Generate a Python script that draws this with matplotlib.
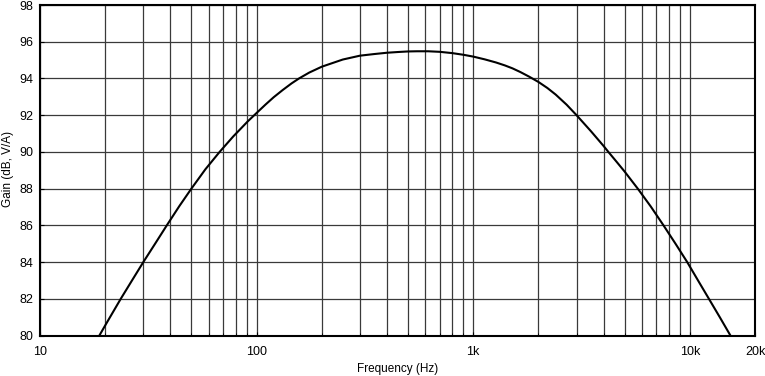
import matplotlib
matplotlib.use("Agg")
import matplotlib.pyplot as plt
from matplotlib.ticker import FixedLocator, NullFormatter

plt.rcParams['font.family'] = ['Liberation Sans', 'DejaVu Sans']

freq_hz = [18.8, 20, 23.6, 26.6, 30, 34, 38.5, 44, 50, 58, 67.5, 78, 91, 100, 110, 120,
           132, 145, 157, 175, 200, 250, 300, 350, 400, 450, 500, 550, 620, 700, 800,
           900, 1000, 1130, 1274, 1400, 1518, 1650, 1811, 2000, 2200, 2404, 2700, 3000,
           3500, 4000, 4207, 4600, 5000, 5750, 6600, 7560, 8600, 9727, 11000, 12250,
           13750, 15400]
gain_db = [80.0, 80.55, 82.0, 83.0, 84.0, 85.0, 86.0, 87.05, 88.0, 89.05, 90.0, 90.84,
           91.66, 92.12, 92.58, 92.98, 93.37, 93.73, 94.0, 94.32, 94.64, 95.03, 95.24,
           95.33, 95.40, 95.44, 95.47, 95.48, 95.48, 95.45, 95.38, 95.29, 95.19, 95.04,
           94.87, 94.71, 94.55, 94.35, 94.1, 93.81, 93.48, 93.12, 92.57, 92.0, 91.12,
           90.32, 90.0, 89.45, 88.93, 88.0, 87.03, 86.0, 84.99, 84.0, 82.93, 82.0, 81.0,
           80.0]

x_ticks = [10, 100, 1000, 10000, 20000]
x_tick_labels = ["10", "100", "1k", "10k", "20k"]
x_minor = [20, 30, 40, 50, 60, 70, 80, 90, 200, 300, 400, 500, 600, 700, 800, 900,
           2000, 3000, 4000, 5000, 6000, 7000, 8000, 9000]
y_ticks = [80, 82, 84, 86, 88, 90, 92, 94, 96, 98]

W, H = 765, 376
L, R, B, T = 40, 755, 335.5, 5
fig = plt.figure(figsize=(W/100, H/100), dpi=100)
ax = fig.add_axes([L/W, (H-B)/H, (R-L)/W, (B-T)/H])

ax.set_xscale('log')
ax.set_xlim(10, 20000)
ax.set_ylim(80, 98)

ax.xaxis.set_major_locator(FixedLocator(x_ticks))
ax.set_xticklabels(x_tick_labels)
ax.xaxis.set_minor_locator(FixedLocator(x_minor))
ax.xaxis.set_minor_formatter(NullFormatter())
ax.set_yticks(y_ticks)

ax.grid(True, which='both', axis='x', color='#3a3a3a', linewidth=0.9)
ax.grid(True, which='major', axis='y', color='#3a3a3a', linewidth=0.9)

ax.plot(freq_hz, gain_db, color='black', linewidth=1.5, zorder=3,
        solid_joinstyle='round')

for s in ax.spines.values():
    s.set_linewidth(1.5)
    s.set_color('black')

ax.tick_params(axis='both', which='major', labelsize=9, direction='in', length=3, width=0.8)
ax.tick_params(axis='x', which='major', pad=7.5)
ax.tick_params(axis='y', which='major', pad=5)
ax.tick_params(axis='x', which='minor', direction='in', length=2, width=0.6)

ax.set_xlabel("Frequency (Hz)", fontsize=8.5, va='center')
ax.xaxis.set_label_coords(0.5, (B-369)/(B-T))
ax.set_ylabel("Gain (dB, V/A)", fontsize=8.5, va='center')
ax.yaxis.set_label_coords((8-L)/(R-L), (B-169)/(B-T))

fig.savefig("out.png", dpi=100)
